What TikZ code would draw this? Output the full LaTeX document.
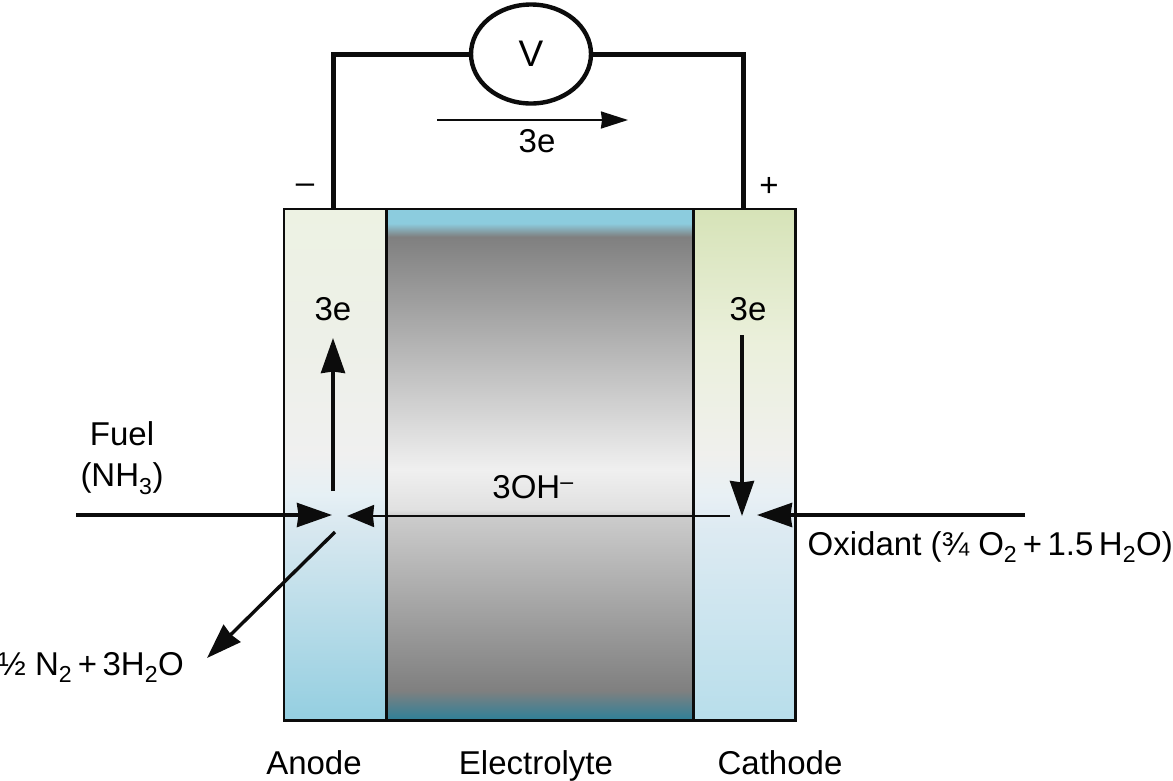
\documentclass[tikz,border=0pt]{standalone}
\usepackage{fontspec}
\setmainfont{Liberation Sans}
\usetikzlibrary{arrows.meta,positioning,calc,shapes.geometric}
\definecolor{wire}{HTML}{0C0C0C}
% stops run from bottom (25bp) to top (75bp)
\pgfdeclareverticalshading{anodeshade}{100bp}{
  rgb(0bp)=(0.58,0.81,0.88);
  rgb(25bp)=(0.58,0.81,0.88);
  rgb(44bp)=(0.85,0.91,0.94);
  rgb(47bp)=(0.90,0.94,0.96);
  rgb(51bp)=(0.94,0.94,0.94);
  rgb(62bp)=(0.93,0.94,0.91);
  rgb(75bp)=(0.93,0.95,0.89);
  rgb(100bp)=(0.93,0.95,0.89)}
\pgfdeclareverticalshading{cathodeshade}{100bp}{
  rgb(0bp)=(0.72,0.87,0.92);
  rgb(25bp)=(0.72,0.87,0.92);
  rgb(44bp)=(0.87,0.92,0.95);
  rgb(47bp)=(0.91,0.94,0.96);
  rgb(51bp)=(0.94,0.94,0.93);
  rgb(62bp)=(0.92,0.94,0.86);
  rgb(75bp)=(0.84,0.89,0.72);
  rgb(100bp)=(0.84,0.89,0.72)}
\pgfdeclareverticalshading{electroshade}{100bp}{
  rgb(0bp)=(0.18,0.50,0.60);
  rgb(25bp)=(0.18,0.50,0.60);
  rgb(27.9bp)=(0.50,0.50,0.50);
  rgb(45bp)=(0.80,0.80,0.80);
  rgb(45.6bp)=(0.88,0.88,0.88);
  rgb(49.5bp)=(0.94,0.94,0.94);
  rgb(72.3bp)=(0.50,0.50,0.50);
  rgb(73.6bp)=(0.55,0.80,0.87);
  rgb(100bp)=(0.55,0.80,0.87)}

\begin{document}
\begin{tikzpicture}[x=1pt,y=-1pt,
  cell/.style={minimum height=511pt, inner sep=0pt, anchor=north west},
  lbl/.style={font=\fontsize{33}{41}\selectfont, inner sep=0pt, align=center, text=black},
  wireline/.style={line width=5pt, draw=wire},
  bigflow/.style={line width=3.4pt, draw=wire, -{Stealth[length=35pt, width=24pt, inset=1.5pt]}},
  thinflow/.style={line width=2.2pt, draw=wire, -{Stealth[length=27pt, width=22pt, inset=1pt]}},
]
\useasboundingbox (0,0) rectangle (1173,780);

\node[cell, shading=anodeshade, minimum width=102pt] (anode) at (284,209) {};
\node[cell, shading=electroshade, minimum width=307pt] (electrolyte) at (386,209) {};
\node[cell, shading=cathodeshade, minimum width=102pt] (cathode) at (693,209) {};
% outlines go on top so the shadings do not cover them
\draw[wire, line width=2.4pt] (anode.north west) rectangle (anode.south east);
\draw[wire, line width=2.4pt] (electrolyte.north west) rectangle (electrolyte.south east);
\draw[wire, line width=2.4pt] (cathode.north west) rectangle (cathode.south east);

\node[lbl, font=\fontsize{37}{41}\selectfont, draw=wire, line width=4.4pt, fill=white, ellipse, minimum width=120pt,
  minimum height=99pt, inner sep=0pt] (volt) at (531,54) {V};

\coordinate (anodetop) at (333,209);
\coordinate (cathodetop) at (743,209);
\draw[wireline] (volt.west) -| (anodetop);
\draw[wireline] (volt.east) -| (cathodetop);

% electron arrow under the meter
\coordinate (estart) at (437,120);
\coordinate (eend) at (628,120);
\draw[line width=2pt, draw=wire, -{Stealth[length=27pt, width=17pt, inset=1pt]}] (estart) -- (eend);
\node[lbl] (etop) at (537,141) {3e};

\node[lbl] (minus) at (305,189) {–};
\node[lbl] (plus) at (769,187) {+};

\node[lbl] (eanode) at (333,309) {3e};
\node[lbl] (ecathode) at (748,309) {3e};
\node[lbl] (hydroxide) at (533,487) {3OH\textsuperscript{–}};

% flows inside the cell
\coordinate (upstart) at (333,491);
\coordinate (uptip) at (333,338);
\coordinate (downstart) at (742,335);
\coordinate (downtip) at (742,516);
\coordinate (fuelstart) at (76,515);
\coordinate (fueltip) at (332,515);
\coordinate (oxstart) at (1025,515);
\coordinate (oxtip) at (757,515);
\coordinate (ohstart) at (730,516);
\coordinate (ohtip) at (347,516);
\coordinate (outstart) at (335,532);
\coordinate (outtip) at (207,658);

\draw[bigflow] (upstart) -- (uptip);
\draw[bigflow] (downstart) -- (downtip);
\draw[bigflow] (fuelstart) -- (fueltip);
\draw[bigflow] (oxstart) -- (oxtip);
\draw[thinflow] (ohstart) -- (ohtip);
\draw[bigflow] (outstart) -- (outtip);

\node[lbl] (fuel) at (122,458) {Fuel\\(NH\textsubscript{3})};
\node[lbl, anchor=base east] (oxidant) at (1173,555) {Oxidant (¾ O\textsubscript{2}\,+\,1.5\,H\textsubscript{2}O)};
\node[lbl, anchor=base east] (exhaust) at (184,675) {½ N\textsubscript{2}\,+\,3H\textsubscript{2}O};

\node[lbl, anchor=base] (anodelbl) at (314,774) {Anode};
\node[lbl, anchor=base] (electrolbl) at (536,774) {Electrolyte};
\node[lbl, anchor=base] (cathodelbl) at (780,774) {Cathode};
\end{tikzpicture}
\end{document}
